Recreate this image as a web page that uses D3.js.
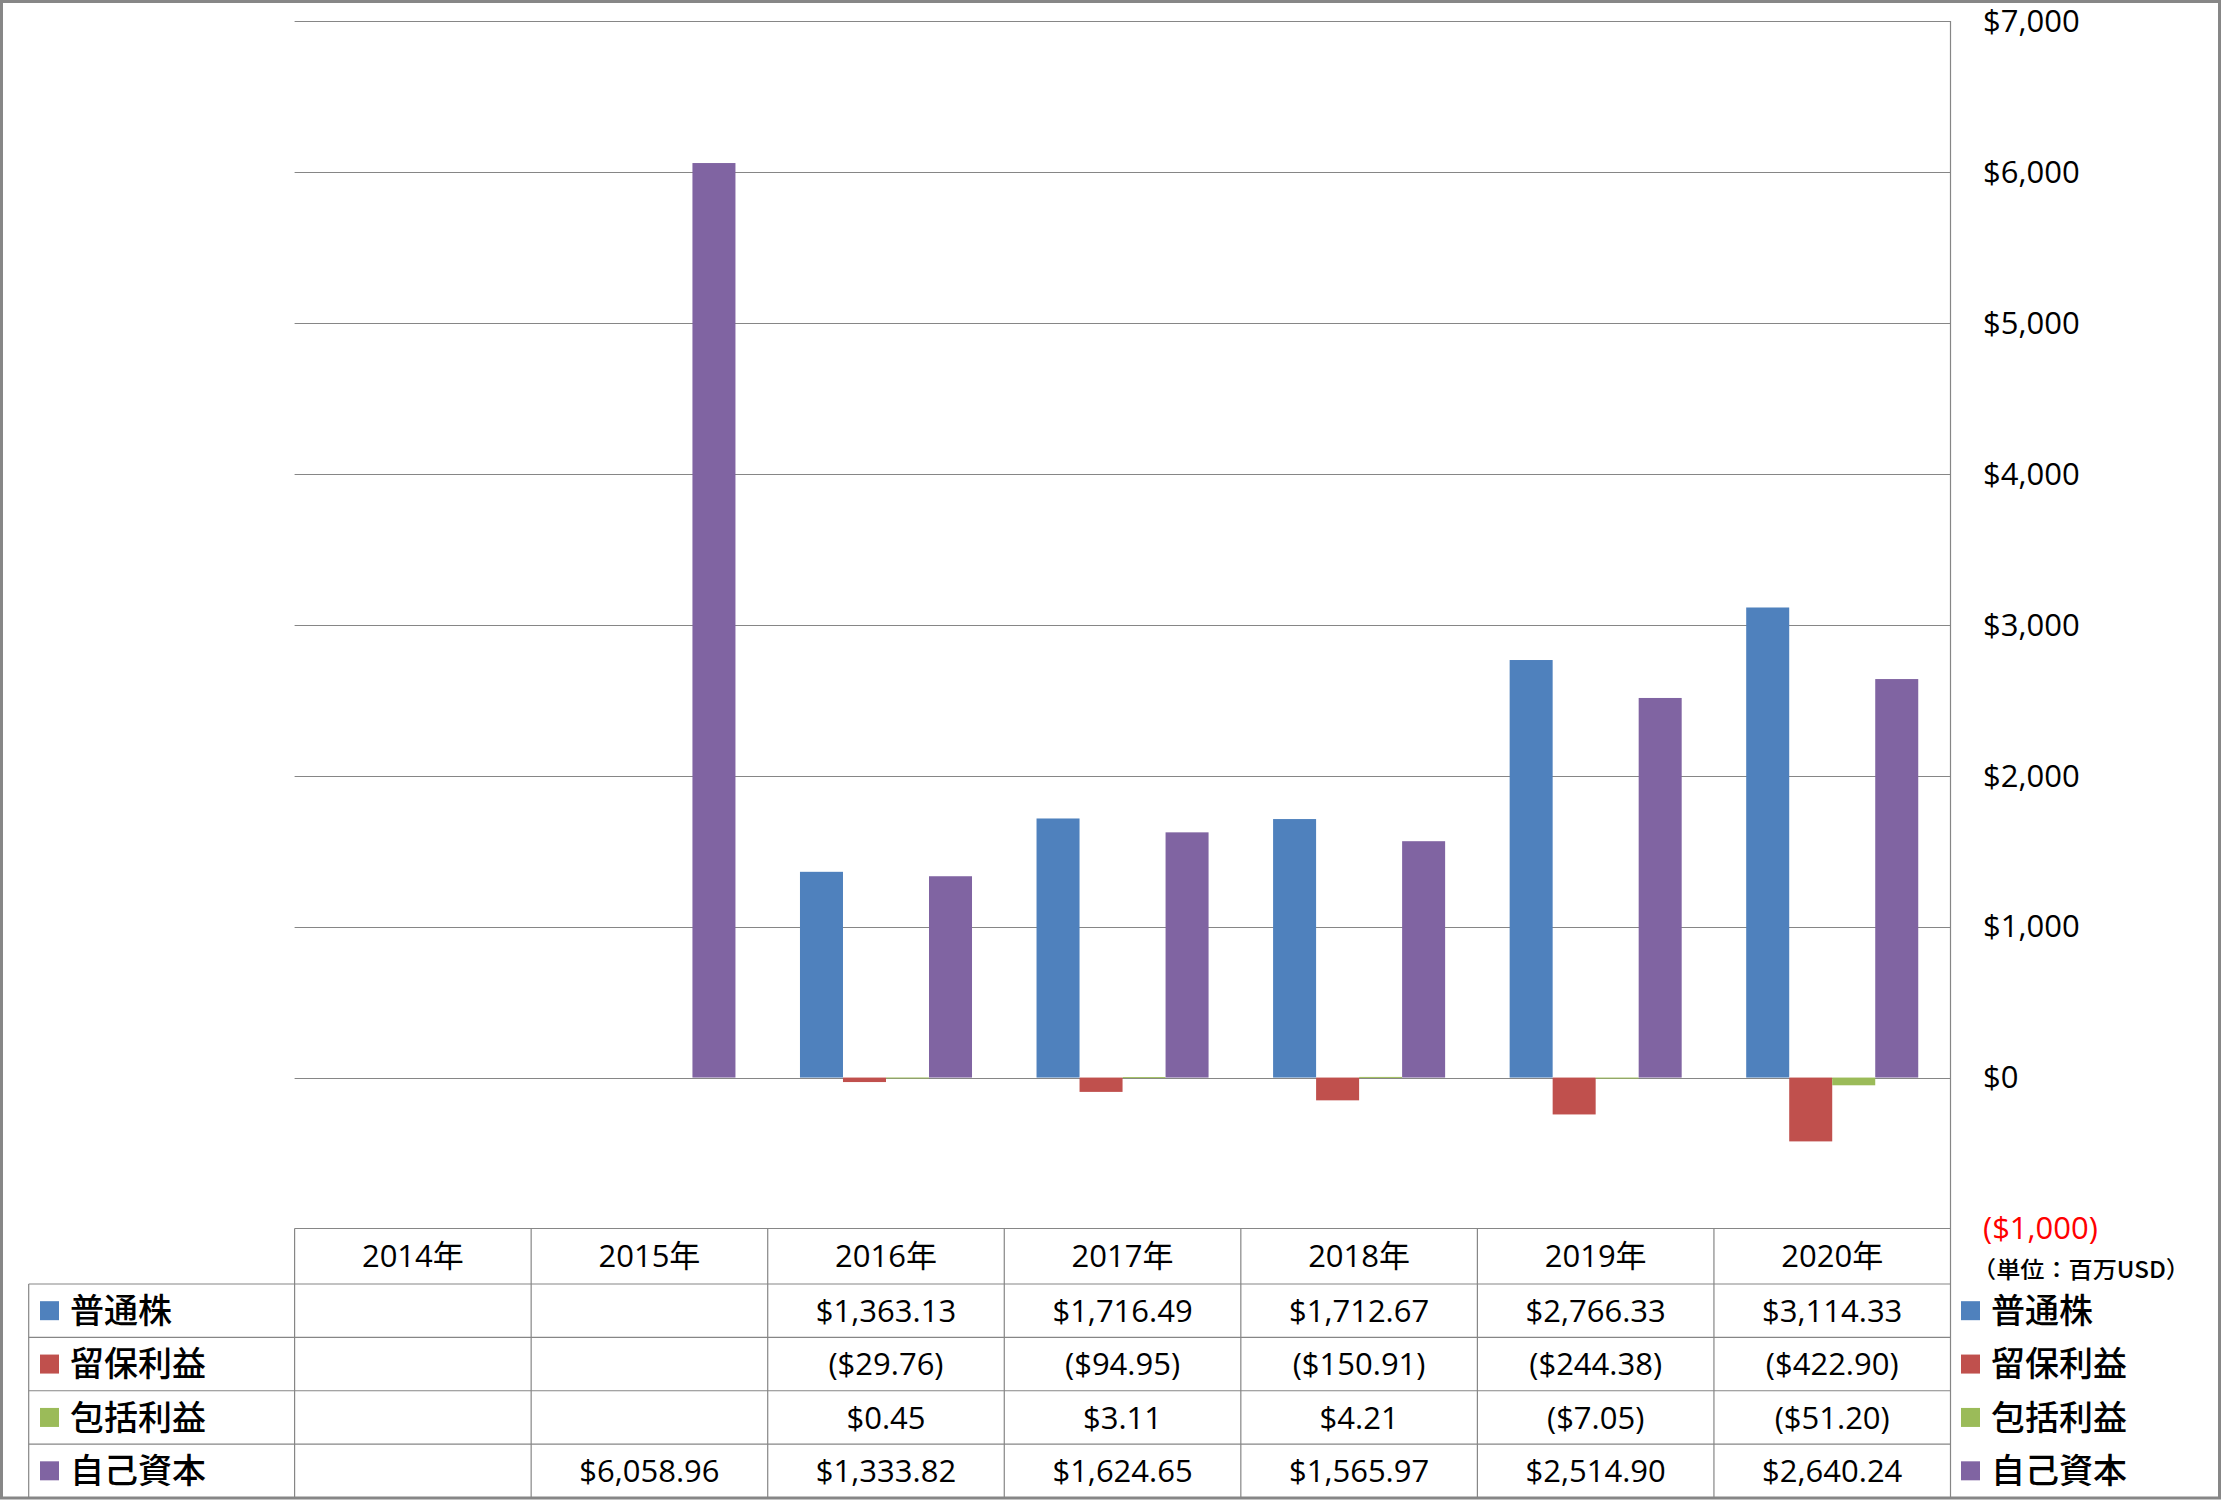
<!DOCTYPE html>
<html><head><meta charset="utf-8">
<script src="https://cdn.jsdelivr.net/npm/d3@7"></script>
<style>
html,body{margin:0;padding:0;background:#fff;}
svg{display:block;}
text{font-family:"Open Sans","Noto Sans CJK JP",sans-serif;}
.cjk{font-family:"Noto Sans CJK JP",sans-serif;}
</style></head>
<body>
<svg id="chart" width="2221" height="1500"></svg>
<script>
// ---- data ----
const years = ["2014年","2015年","2016年","2017年","2018年","2019年","2020年"];
const seriesNames = ["普通株","留保利益","包括利益","自己資本"];
const commonStock    = [null, null, 1363.13, 1716.49, 1712.67, 2766.33, 3114.33];
const retainedEarn   = [null, null, -29.76, -94.95, -150.91, -244.38, -422.90];
const comprehensive  = [null, null, 0.45, 3.11, 4.21, -7.05, -51.20];
const equity         = [null, 6058.96, 1333.82, 1624.65, 1565.97, 2514.90, 2640.24];
const yTicks = [-1000, 0, 1000, 2000, 3000, 4000, 5000, 6000, 7000];
const unitLabel = "（単位：百万USD）";

const seriesValues = [commonStock, retainedEarn, comprehensive, equity];
const colors = ["#4F81BD","#C0504D","#9BBB59","#8064A2"];

// ---- layout ----
const svg = d3.select("#chart");
const plotL = 294.6, plotR = 1950.5, plotT = 21, plotB = 1228.5;
const tableBottom = 1497.5, legendL = 28.7;
const gridColor = "#868686";

const x = d3.scaleBand().domain(years).range([plotL, plotR]).paddingInner(0).paddingOuter(0);
const xs = d3.scaleBand().domain(seriesNames).range([0, x.bandwidth()]).paddingInner(0).paddingOuter(0.75);
const y = d3.scaleLinear().domain([-1000, 7000]).range([plotB, plotT]);

// outer border
svg.append("rect").attr("x",1.5).attr("y",1.5).attr("width",2218).attr("height",1496.5)
  .attr("fill","none").attr("stroke","#878787").attr("stroke-width",3);

// gridlines
svg.append("g").selectAll("line").data(yTicks.filter(t => t >= 0)).join("line")
  .attr("x1", plotL).attr("x2", plotR)
  .attr("y1", d => Math.round(y(d)) + 0.5).attr("y2", d => Math.round(y(d)) + 0.5)
  .attr("stroke", gridColor).attr("stroke-width", 1);

// bars
const barData = [];
seriesValues.forEach((vals, si) => vals.forEach((v, i) => {
  if (v !== null) barData.push({year: years[i], s: seriesNames[si], v, c: colors[si]});
}));
svg.append("g").selectAll("rect").data(barData).join("rect")
  .attr("x", d => x(d.year) + xs(d.s))
  .attr("width", xs.bandwidth())
  .attr("y", d => Math.min(y(d.v), y(0)))
  .attr("height", d => Math.max(Math.abs(y(d.v) - y(0)), 1))
  .attr("fill", d => d.c);

// y axis labels (right)
const fmtTick = d => d < 0 ? "($" + d3.format(",")(-d) + ")" : "$" + d3.format(",")(d);
svg.append("g").selectAll("text").data(yTicks).join("text")
  .attr("x", 1983).attr("y", d => y(d)).attr("dy", "0.35em")
  .attr("font-size", 31).attr("fill", d => d < 0 ? "#FF0000" : "#000")
  .text(fmtTick);

// unit label
svg.append("text").attr("class","cjk").attr("x", 1972).attr("y", 1270).attr("dy","0.36em")
  .attr("font-size", 23).attr("font-weight", 500).attr("textLength", 218).attr("lengthAdjust","spacingAndGlyphs")
  .text(unitLabel);

// ---- data table ----
const tg = svg.append("g");
const line = (x1,y1,x2,y2) => tg.append("line").attr("x1",x1).attr("y1",y1).attr("x2",x2).attr("y2",y2)
  .attr("stroke", gridColor).attr("stroke-width", 1.2);
const headerTop = plotB, headerBot = 1284;
line(plotL, headerTop, plotR, headerTop);
for (let r = 0; r <= 4; r++) {
  const yy = headerBot + r * (tableBottom - headerBot) / 4;
  line(legendL, yy, plotR, yy);
}
line(legendL, headerBot, legendL, tableBottom);
years.forEach(yr => line(x(yr), headerTop, x(yr), tableBottom));
line(plotR, plotT, plotR, tableBottom);

// header years
tg.selectAll("text.hdr").data(years).join("text").attr("class","hdr")
  .attr("x", d => x(d) + x.bandwidth()/2).attr("y", (headerTop + headerBot)/2).attr("dy","0.36em")
  .attr("text-anchor","middle").attr("font-size", 31).text(d => d);

const rH = (tableBottom - headerBot) / 4;
const fmtVal = v => v < 0 ? "($" + d3.format(",.2f")(-v) + ")" : "$" + d3.format(",.2f")(v);
seriesValues.forEach((vals, si) => {
  const cy = headerBot + rH * (si + 0.5);
  vals.forEach((v, i) => {
    if (v === null) return;
    tg.append("text").attr("x", x(years[i]) + x.bandwidth()/2).attr("y", cy).attr("dy","0.36em")
      .attr("text-anchor","middle").attr("font-size", 31).text(fmtVal(v));
  });
  // left legend
  tg.append("rect").attr("x", 40).attr("y", cy - 9.5).attr("width", 19).attr("height", 19).attr("fill", colors[si]);
  tg.append("text").attr("class","cjk").attr("x", 70).attr("y", cy).attr("dy","0.36em")
    .attr("font-size", 34).attr("font-weight", 500).text(seriesNames[si]);
  // right legend
  tg.append("rect").attr("x", 1961).attr("y", cy - 9.5).attr("width", 19).attr("height", 19).attr("fill", colors[si]);
  tg.append("text").attr("class","cjk").attr("x", 1991).attr("y", cy).attr("dy","0.36em")
    .attr("font-size", 34).attr("font-weight", 500).text(seriesNames[si]);
});
</script>
</body></html>
